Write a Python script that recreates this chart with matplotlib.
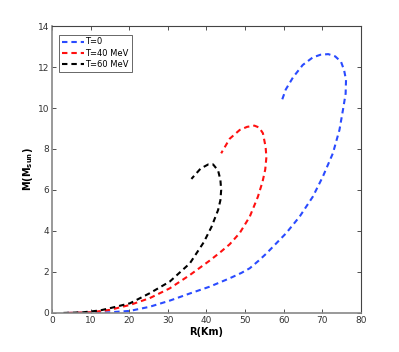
import matplotlib
matplotlib.use("Agg")
import matplotlib.pyplot as plt

# mass-radius curves
r_t0 = [4, 10, 15, 20.2, 25.3, 30.5, 35.7, 40.8, 46.0, 49.0, 51.2, 53.5, 55.5, 57.2, 60.6,
        64.1, 67.5, 70.1, 72.7, 74.4, 75.3, 76.0, 76.1, 75.6, 74.8, 73.3, 71.5, 69.5, 67.5,
        64.9, 62.4, 60.5, 59.3]
m_t0 = [0.0, 0.01, 0.03, 0.1, 0.3, 0.6, 0.95, 1.28, 1.69, 1.95, 2.18, 2.55, 2.9, 3.23, 3.89,
        4.7, 5.67, 6.65, 7.79, 8.93, 9.9, 10.7, 11.37, 11.85, 12.26, 12.52, 12.63, 12.6, 12.47,
        12.1, 11.5, 10.9, 10.26]

r_t40 = [4, 10, 15, 20.2, 25.3, 30.5, 35.7, 40.8, 43.5, 46.0, 48.6, 51.2, 53.3, 54.5, 55.2,
         55.5, 55.3, 54.6, 53.6, 52.4, 50.5, 48.6, 46.0, 43.8]
m_t40 = [0.0, 0.03, 0.15, 0.39, 0.72, 1.2, 1.85, 2.55, 2.95, 3.35, 3.9, 4.7, 5.67, 6.4, 7.0,
         7.6, 8.1, 8.77, 9.05, 9.14, 9.08, 8.93, 8.5, 7.79]

r_t60 = [3, 8, 12.4, 15, 20.2, 25.3, 30.5, 35.7, 39.3, 41.3, 43.0, 43.6, 43.8, 43.6, 43.0,
         41.7, 40.5, 38.5, 36.1]
m_t60 = [0.0, 0.03, 0.12, 0.23, 0.47, 0.96, 1.53, 2.42, 3.45, 4.2, 5.02, 5.5, 6.0, 6.5, 6.95,
         7.25, 7.25, 7.05, 6.54]

labels = ["T=0", "T=40 MeV", "T=60 MeV"]
colors = ["#2a4bff", "#ff1010", "#000000"]

fig = plt.figure(figsize=(3.99, 3.52), dpi=100)
ax = fig.add_axes([0.130, 0.111, 0.775, 0.815])

dash = (0, (2.6, 1.9))
for r, m, lab, c in zip([r_t0, r_t40, r_t60], [m_t0, m_t40, m_t60], labels, colors):
    ax.plot(r, m, linestyle=dash, color=c, lw=1.5, label=lab)

ax.set_xlim(0, 80)
ax.set_ylim(0, 14)
ax.set_xticks(range(0, 81, 10))
ax.set_yticks(range(0, 15, 2))
ax.tick_params(direction="in", length=3, width=0.6, labelsize=6.5, colors="#333333",
               top=True, right=True, pad=2)
for s in ax.spines.values():
    s.set_color("#444444")
    s.set_linewidth(0.8)
ax.spines["left"].set_color("#888888")
ax.spines["left"].set_linewidth(1.2)
ax.spines["bottom"].set_color("#888888")
ax.spines["bottom"].set_linewidth(1.2)

ax.set_xlabel("R(Km)", fontsize=7, fontweight="bold", labelpad=2)
ax.set_ylabel(r"M(M$_{\mathbf{sun}}$)", fontsize=7, fontweight="bold", labelpad=2)

leg = ax.legend(loc="upper left", fontsize=6, fancybox=False, edgecolor="#222222",
                handlelength=2.6, handletextpad=0.2, borderpad=0.35, labelspacing=0.25,
                bbox_to_anchor=(0.01, 0.985))
leg.get_frame().set_linewidth(0.6)

fig.savefig("out.png", dpi=100)
